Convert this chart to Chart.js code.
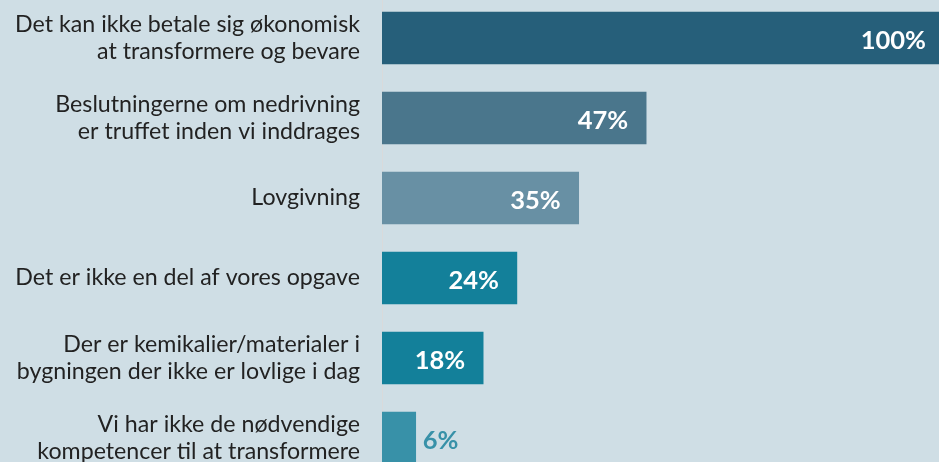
<!DOCTYPE html>
<html>
<head>
<meta charset="utf-8">
<script src="https://cdn.jsdelivr.net/npm/chart.js@4.4.1/dist/chart.umd.min.js"></script>
<style>
  html, body { margin: 0; padding: 0; background: #cfdee5; overflow: hidden; width: 939px; height: 462px; }
  #wrap { position: absolute; left: 0; top: -2px; width: 944px; height: 480px; }
</style>
</head>
<body>
<div id="wrap"><canvas id="c"></canvas></div>
<script>
const categories = [
  ["Det kan ikke betale sig økonomisk", "at transformere og bevare"],
  ["Beslutningerne om nedrivning", "er truffet inden vi inddrages"],
  "Lovgivning",
  "Det er ikke en del af vores opgave",
  ["Der er kemikalier/materialer i", "bygningen der ikke er lovlige i dag"],
  ["Vi har ikke de nødvendige", "kompetencer til at transformere"]
];
const values = [100, 47, 35, 24, 18, 6];
const barColors = ["#265f7a", "#4a768c", "#6890a4", "#13809a", "#13809a", "#3891a8"];
const valueLabels = ["100%", "47%", "35%", "24%", "18%", "6%"];

const valueLabelPlugin = {
  id: 'valueLabels',
  afterDatasetsDraw(chart) {
    const ctx = chart.ctx;
    const meta = chart.getDatasetMeta(0);
    ctx.save();
    ctx.font = 'bold 25.5px Lato';
    ctx.textBaseline = 'middle';
    meta.data.forEach((bar, i) => {
      const w = bar.x - bar.base;
      const txt = valueLabels[i];
      const tw = ctx.measureText(txt).width;
      if (w > tw + 30) {
        ctx.fillStyle = '#ffffff';
        ctx.textAlign = 'right';
        ctx.fillText(txt, bar.x - 18, bar.y + 3);
      } else {
        ctx.fillStyle = barColors[i];
        ctx.textAlign = 'left';
        ctx.fillText(txt, bar.x + 7, bar.y + 3);
      }
    });
    ctx.restore();
  }
};

new Chart(document.getElementById('c'), {
  type: 'bar',
  data: {
    labels: categories,
    datasets: [{
      data: values,
      backgroundColor: barColors,
      borderWidth: 0,
      barThickness: 52
    }]
  },
  options: {
    indexAxis: 'y',
    responsive: true,
    maintainAspectRatio: false,
    animation: false,
    layout: { padding: 0 },
    plugins: { legend: { display: false }, tooltip: { enabled: false } },
    scales: {
      x: {
        min: 0, max: 100,
        display: false,
        grid: { display: false }
      },
      y: {
        grid: { display: false, drawTicks: false },
        border: { display: true, color: '#d9dadb', width: 1 },
        ticks: {
          color: '#222222',
          font: { family: 'Lato', size: 23.2, lineHeight: 1.145 },
          padding: 22
        },
        afterFit(scale) {
          scale.width = 382;
          scale.paddingTop = 0;
          scale.paddingBottom = 0;
        }
      }
    }
  },
  plugins: [valueLabelPlugin]
});
</script>
</body>
</html>
